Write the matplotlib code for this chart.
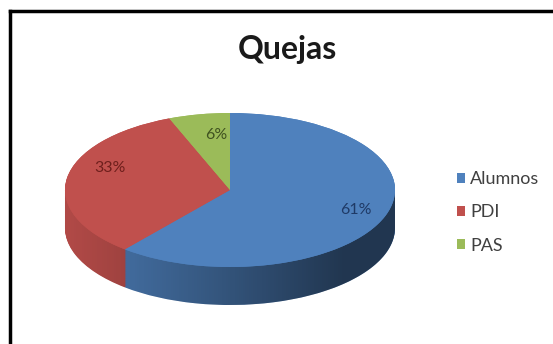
import numpy as np
import matplotlib
matplotlib.use("Agg")
import matplotlib.pyplot as plt
from matplotlib.patches import Polygon
from matplotlib.lines import Line2D

plt.rcParams['font.family'] = ['Lato', 'DejaVu Sans']

categories = ['Alumnos', 'PDI', 'PAS']
values = [61, 33, 6]
colors = ['#4f81bd', '#c0504d', '#9bbb59']
label_colors = ['#1f3a66', '#6e1f1c', '#3f5220']

W, H = 553, 344
fig = plt.figure(figsize=(W / 100, H / 100), dpi=100)
fig.patch.set_facecolor('white')

# pie axes: unit circle squashed to an ellipse, extra room below for the rim
cx, cy_top = 230, 113
rx, ry, depth_px = 165, 77, 38
depth = depth_px / ry
ax = fig.add_axes([(cx - rx) / W, (H - (cy_top + 2 * ry + depth_px)) / H,
                   2 * rx / W, (2 * ry + depth_px) / H])

# side of the disc: pies stacked downwards
for d in np.linspace(depth, 0, 60):
    ax.pie(values, colors=colors, startangle=90, counterclock=False,
           center=(0, -d), wedgeprops=dict(linewidth=0))

# darken the rim from left to right
t = np.linspace(np.pi, 2 * np.pi, 200)
rim = np.concatenate([np.column_stack([np.cos(t), np.sin(t)]),
                      np.column_stack([np.cos(t[::-1]), np.sin(t[::-1]) - depth])])
rim_patch = Polygon(rim, closed=True, facecolor='none', edgecolor='none')
ax.add_patch(rim_patch)
xs = np.linspace(0, 1, 300)
alpha = np.clip(0.08 + 0.60 * xs ** 1.1, 0, 0.58)
shade = np.zeros((2, 300, 4))
shade[..., 3] = alpha
img = ax.imshow(shade, extent=(-1, 1, -1 - depth, 0), aspect='auto',
                interpolation='bilinear', zorder=5)
img.set_clip_path(rim_patch)

# top face
wedges, texts, autotexts = ax.pie(values, colors=colors, startangle=90,
                                  counterclock=False, autopct='%1.0f%%',
                                  pctdistance=0.75,
                                  wedgeprops=dict(linewidth=0),
                                  textprops=dict(fontsize=11.5))
for w in wedges:
    w.set_zorder(10)
label_pos = [(0.76, -0.26), (-0.73, 0.29), (-0.085, 0.71)]
for txt, c, pos in zip(autotexts, label_colors, label_pos):
    txt.set_color(c)
    txt.set_position(pos)
    txt.set_zorder(11)

ax.set_aspect('auto')
ax.set_xlim(-1, 1)
ax.set_ylim(-1 - depth, 1)
ax.axis('off')

fig.text(287 / W, 1 - 50 / H, 'Quejas', fontsize=23, fontweight='bold',
         color='#1a1a1a', ha='center', va='center')

# legend
leg = fig.legend(wedges, categories, loc='upper left',
                 bbox_to_anchor=(441 / W, 1 - 155 / H), frameon=False,
                 fontsize=13, handlelength=0.45, handleheight=0.45,
                 handletextpad=0.25, labelspacing=0.95,
                 labelcolor='#404040')

# picture frame on top and left
fig.add_artist(Line2D([10 / W, 1], [1 - 11 / H, 1 - 11 / H],
                      transform=fig.transFigure, color='black', lw=2.5))
fig.add_artist(Line2D([10 / W, 10 / W], [0, 1 - 11 / H],
                      transform=fig.transFigure, color='black', lw=2.5))

fig.savefig('out.png', dpi=100)
